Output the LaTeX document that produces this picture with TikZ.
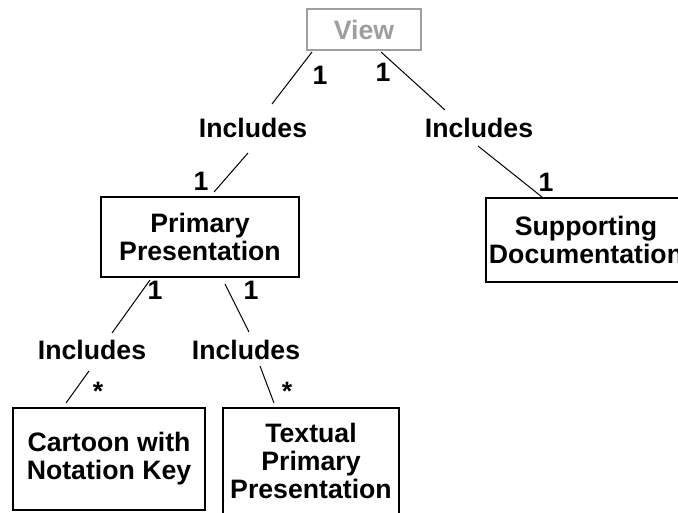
\documentclass[tikz,border=0pt]{standalone}
\usepackage{fontspec}
\setmainfont{Liberation Sans}
\usetikzlibrary{calc}
\definecolor{viewgray}{RGB}{158,158,158}

\begin{document}
\begin{tikzpicture}[
    x=0.75pt, y=-0.75pt,
    every node/.style={font=\fontsize{20}{21}\selectfont\bfseries},
    box/.style={rectangle, draw, line width=1.5pt, inner sep=0pt, align=center},
    relname/.style={inner sep=0pt},
    mult/.style={inner sep=0pt}
]
\useasboundingbox (0,0) rectangle (678,512);
\clip (0,0) rectangle (678,512);

% view
\node[box, draw=viewgray, text=viewgray, minimum width=114*0.75pt, minimum height=41*0.75pt] (view) at (364,29.5) {View};

% first level
\node[box, minimum width=198*0.75pt, minimum height=80*0.75pt] (prim) at (200,237) {Primary\\Presentation};
\node[box, minimum width=200*0.75pt, minimum height=84*0.75pt] (supp) at (586,240) {Supporting\\Documentation};

% second level
\node[box, minimum width=192*0.75pt, minimum height=102*0.75pt] (cart) at (109,459) {Cartoon with\\Notation Key};
\node[box, minimum width=176*0.75pt, minimum height=106*0.75pt] (txt) at (311,461) {Textual\\Primary\\Presentation};

% relation names
\node[relname] (inc1) at (253,128) {Includes};
\node[relname] (inc2) at (479,128) {Includes};
\node[relname] (inc3) at (92,350) {Includes};
\node[relname] (inc4) at (246,350) {Includes};

% links
\draw[line width=0.75pt] ($(view.south west)+(6,1)$) -- ($(inc1)+(19,-24)$);
\draw[line width=0.75pt] ($(inc1)+(-5,25)$) -- ($(prim.north)+(14,-4)$);
\draw[line width=0.75pt] ($(view.south)+(17,1)$) -- ($(inc2)+(-34,-18)$);
\draw[line width=0.75pt] ($(inc2)+(-1,18)$) -- ($(supp.north west)+(57,0)$);
\draw[line width=0.75pt] ($(prim.south)+(-50,2)$) -- ($(inc3)+(20,-17)$);
\draw[line width=0.75pt] ($(inc3)+(-3,21)$) -- ($(cart.north)+(-43,-4)$);
\draw[line width=0.75pt] ($(prim.south)+(25,6)$) -- ($(inc4)+(3,-18)$);
\draw[line width=0.75pt] ($(inc4)+(14,16)$) -- ($(txt.north)+(-37,-4)$);

% multiplicities
\node[mult] (m1) at (320,75) {1};
\node[mult] (m2) at (201,181) {1};
\node[mult] (m3) at (383,72) {1};
\node[mult] (m4) at (546,182) {1};
\node[mult] (m5) at (155,290) {1};
\node[mult] (m6) at (251,290) {1};
\node[mult] (m7) at (98,391) {*};
\node[mult] (m8) at (287,391) {*};

\end{tikzpicture}
\end{document}
